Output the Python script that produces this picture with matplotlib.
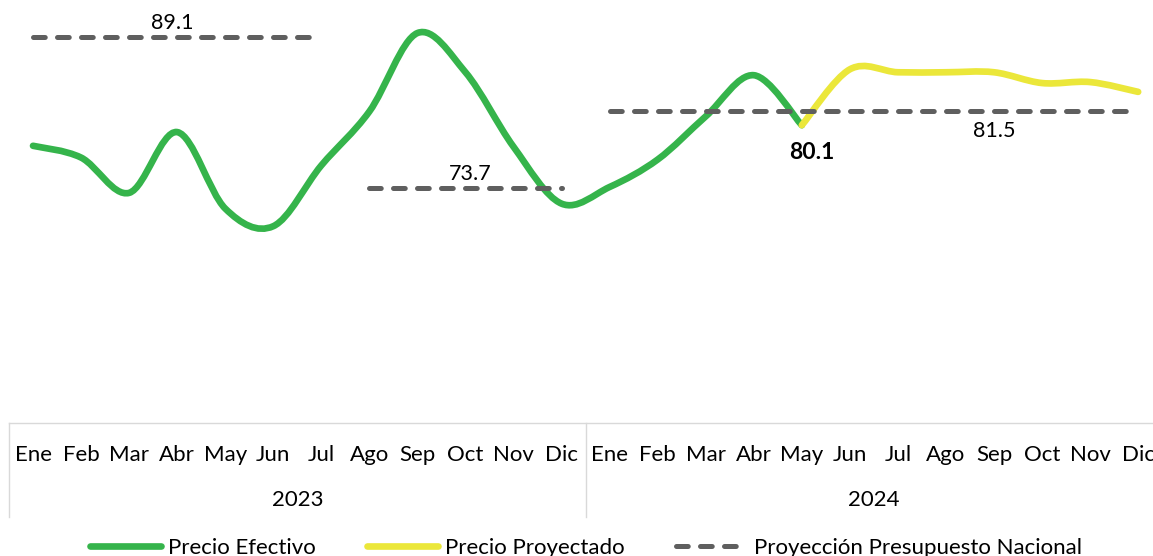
import matplotlib
matplotlib.use("Agg")
import matplotlib.pyplot as plt
import numpy as np
from matplotlib.path import Path
from matplotlib.patches import PathPatch
from matplotlib.lines import Line2D
import matplotlib.transforms as mtransforms

plt.rcParams['font.family'] = ['Lato', 'DejaVu Sans']

# ---------------- data ----------------
months = ["Ene", "Feb", "Mar", "Abr", "May", "Jun", "Jul", "Ago", "Sep", "Oct", "Nov", "Dic"]
years = ["2023", "2024"]
precio_efectivo = [78.0, 76.8, 73.2, 79.4, 71.6, 69.8, 76.0, 81.5, 89.5, 85.5, 77.9, 72.1,
                   73.8, 76.6, 81.0, 85.2, 80.1]                       # Ene-2023 .. May-2024
precio_proyectado = [80.1, 85.8, 85.5, 85.5, 85.5, 84.4, 84.5, 83.5]    # May-2024 .. Dic-2024
presupuesto_vals = [89.1, 73.7, 81.5]
presupuesto_start = [0, 7, 12]   # category index where each budget projection starts
presupuesto_end = [6, 11, 23]    # category index where each budget projection ends
label_efectivo = "Precio Efectivo"
label_proyectado = "Precio Proyectado"
label_presupuesto = "Proyección Presupuesto Nacional"

GREEN = "#35b44b"
YELLOW = "#ebe73a"
GREY = "#5f5f5f"

W, H = 1153, 556
fig = plt.figure(figsize=(W / 100, H / 100), dpi=100)
ax = fig.add_axes([9 / W, 1 - 423 / H, 24 * 48.05 / W, 423 / H])
ax.set_xlim(-0.5, 23.5)
ax.set_ylim(49.73, 92.87)


def smooth_path(xs, ys):
    """Excel-like smoothed line: Catmull-Rom as cubic Bezier segments."""
    P = np.column_stack([xs, ys]).astype(float)
    n = len(P)
    verts = [P[0]]
    codes = [Path.MOVETO]
    for i in range(n - 1):
        p0 = P[i - 1] if i > 0 else P[i]
        p1 = P[i]
        p2 = P[i + 1]
        p3 = P[i + 2] if i + 2 < n else P[i + 1]
        c1 = p1 + (p2 - p0) / 6.0
        c2 = p2 - (p3 - p1) / 6.0
        verts += [c1, c2, p2]
        codes += [Path.CURVE4] * 3
    return Path(verts, codes)


x_ef = np.arange(len(precio_efectivo))
x_pr = np.arange(len(precio_proyectado)) + (len(precio_efectivo) - 1)

for xs, ys, col in [(x_ef, precio_efectivo, GREEN), (x_pr, precio_proyectado, YELLOW)]:
    patch = PathPatch(smooth_path(xs, ys), facecolor="none", edgecolor=col,
                      lw=4.8, capstyle="round", joinstyle="round", zorder=3)
    ax.add_patch(patch)

dash_style = (0, (2.35, 2.45))
for v, s, e in zip(presupuesto_vals, presupuesto_start, presupuesto_end):
    ax.plot([s, e], [v, v], color=GREY, lw=3.6, linestyle=dash_style,
            dash_capstyle="round", zorder=4)

# data labels
ax.annotate(f"{presupuesto_vals[0]:.1f}", (2.9, presupuesto_vals[0]), xytext=(0, 3),
            textcoords="offset points", ha="center", va="bottom", fontsize=15.5, zorder=5)
ax.annotate(f"{presupuesto_vals[1]:.1f}", (9.1, presupuesto_vals[1]), xytext=(0, 3),
            textcoords="offset points", ha="center", va="bottom", fontsize=15.5, zorder=5)
ax.annotate(f"{presupuesto_vals[2]:.1f}", (20.0, presupuesto_vals[2]), xytext=(0, -7),
            textcoords="offset points", ha="center", va="top", fontsize=15.5, zorder=5)
ax.annotate(f"{precio_efectivo[-1]:.1f}", (16.2, precio_efectivo[-1]), xytext=(0, -12),
            textcoords="offset points", ha="center", va="top", fontsize=16.5,
            fontweight="bold", zorder=5)

# axes styling
for s in ["top", "left", "right"]:
    ax.spines[s].set_visible(False)
ax.spines["bottom"].set_color("#d9d9d9")
ax.spines["bottom"].set_linewidth(1.0)
ax.set_xticks([])
ax.set_yticks([])

# multi-level category axis
trans = mtransforms.blended_transform_factory(ax.transData, ax.transAxes)
labels = [m for _ in years for m in months]
for i, lab in enumerate(labels):
    ax.text(i, -0.0757, lab, transform=trans, ha="center", va="center", fontsize=16)
for j, yr in enumerate(years):
    ax.text(j * 12 + 5.5, -0.182, yr, transform=trans, ha="center", va="center", fontsize=16)
for xb in [-0.5, 11.5, 23.5]:
    ax.add_line(Line2D([xb, xb], [0, -0.222], transform=trans, color="#d9d9d9",
                       lw=1.0, clip_on=False))

# legend
handles = [
    Line2D([], [], color=GREEN, lw=4.8, solid_capstyle="round"),
    Line2D([], [], color=YELLOW, lw=4.8, solid_capstyle="round"),
    Line2D([], [], color=GREY, lw=3.6, linestyle=dash_style, dash_capstyle="round"),
]
fig.legend(handles, [label_efectivo, label_proyectado, label_presupuesto],
           loc="center", bbox_to_anchor=(0.508, 1 - 548 / H), ncol=3, frameon=False,
           fontsize=16, handlelength=3.2, handletextpad=0.32, columnspacing=2.3,
           borderpad=0, borderaxespad=0)

fig.savefig("out.png", dpi=100)
